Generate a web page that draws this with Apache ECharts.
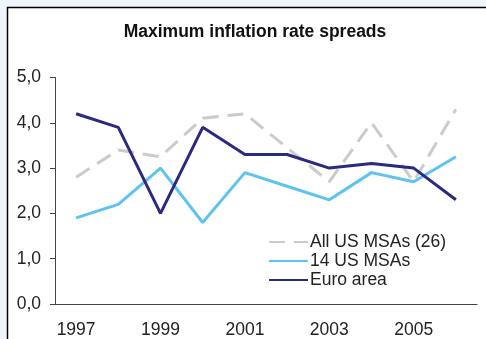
<!DOCTYPE html>
<html><head><meta charset="utf-8">
<script src="https://cdn.jsdelivr.net/npm/echarts@6/dist/echarts.min.js"></script>
<style>html,body{margin:0;padding:0;background:#eef6fb;}#c{width:486px;height:339px;}</style>
</head><body><div id="c"></div>
<script>
var years = ['1997','1998','1999','2000','2001','2002','2003','2004','2005','2006'];
var allUS = [2.8, 3.4, 3.25, 4.1, 4.2, 3.45, 2.7, 4.0, 2.7, 4.3];
var us14 = [1.9, 2.2, 3.0, 1.8, 2.9, 2.6, 2.3, 2.9, 2.7, 3.25];
var euro = [4.2, 3.9, 2.0, 3.9, 3.3, 3.3, 3.0, 3.1, 3.0, 2.3];
var seriesNames = ['All US MSAs (26)', '14 US MSAs', 'Euro area'];

var chart = echarts.init(document.getElementById('c'));
var font = 'Arial, "Liberation Sans", sans-serif';
chart.setOption({
  backgroundColor: '#eef6fb',
  animation: false,
  graphic: [{
    type: 'rect', z: -10, silent: true,
    shape: {x: 7.5, y: 7.5, width: 520, height: 400},
    style: {fill: '#ffffff', stroke: '#000000', lineWidth: 1.5}
  }],
  title: {
    text: 'Maximum inflation rate spreads', left: 250, textAlign: 'center', top: 18,
    textStyle: {fontFamily: font, fontSize: 17.5, fontWeight: 'bold', color: '#111'}
  },
  grid: {left: 55, right: 9, top: 77.5, bottom: 34, containLabel: false},
  legend: {
    orient: 'vertical', left: 263, top: 228, itemWidth: 39, itemHeight: 12, itemGap: 1,
    itemStyle: {opacity: 0},
    textStyle: {fontFamily: font, fontSize: 17.5, color: '#222', padding: [0,0,0,-3]},
    data: seriesNames
  },
  xAxis: {
    type: 'category', data: years, boundaryGap: true,
    axisLine: {lineStyle: {color: '#444', width: 1}},
    axisTick: {interval: 0, length: 5, lineStyle: {color: '#444'}},
    axisLabel: {interval: 1, margin: 17, fontFamily: font, fontSize: 17.5, color: '#222'}
  },
  yAxis: {
    type: 'value', min: 0, max: 5, interval: 1,
    splitLine: {show: false},
    axisLine: {show: true, lineStyle: {color: '#444', width: 1}},
    axisTick: {show: true, length: 5, lineStyle: {color: '#444'}},
    axisLabel: {margin: 14, fontFamily: font, fontSize: 17.5, color: '#222',
      formatter: function (v) { return v.toFixed(1).replace('.', ','); }}
  },
  series: [
    {name: seriesNames[0], type: 'line', data: allUS, symbol: 'none',
     lineStyle: {color: '#cbcbcb', width: 3, type: [16, 9]}, itemStyle: {color: '#cbcbcb'}},
    {name: seriesNames[1], type: 'line', data: us14, symbol: 'none',
     lineStyle: {color: '#5ec3ef', width: 3}, itemStyle: {color: '#5ec3ef'}},
    {name: seriesNames[2], type: 'line', data: euro, symbol: 'none',
     lineStyle: {color: '#2a2a80', width: 3}, itemStyle: {color: '#2a2a80'}}
  ]
});
</script></body></html>
